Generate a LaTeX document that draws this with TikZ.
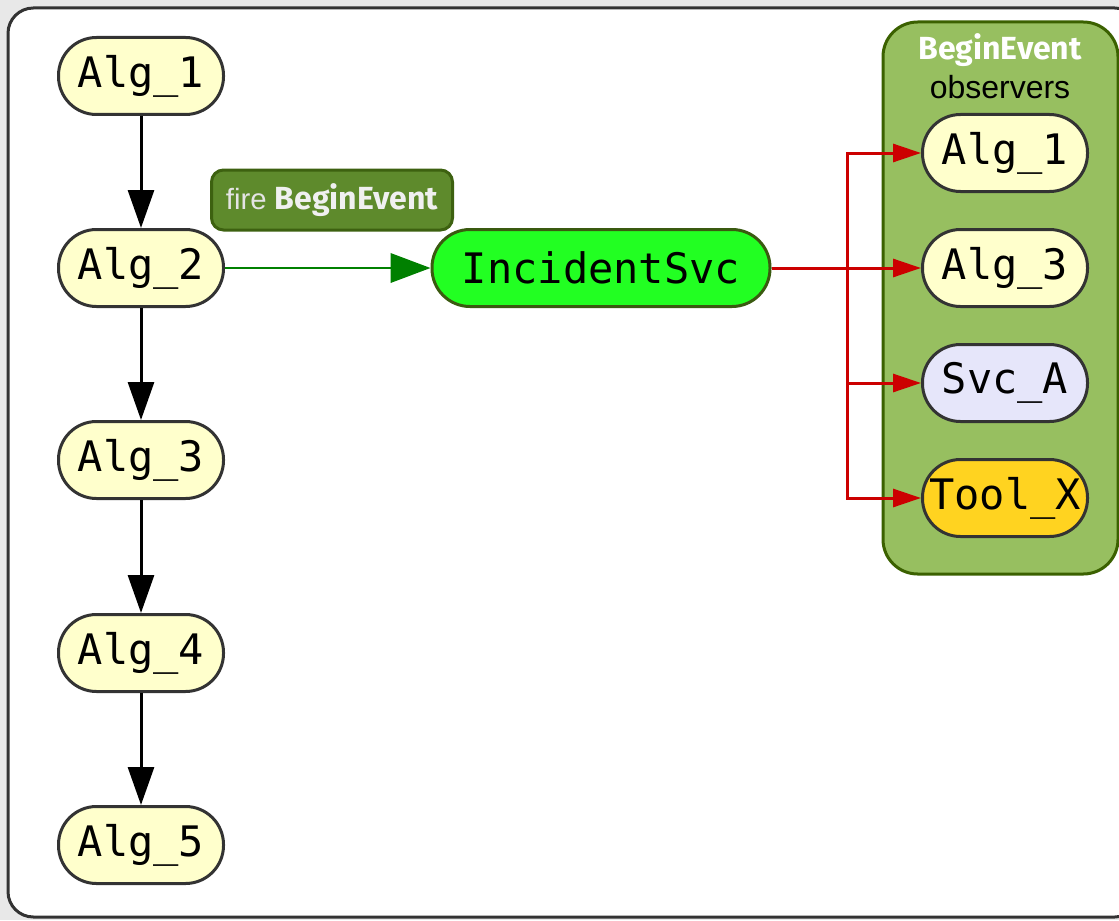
\documentclass[tikz,border=0pt]{standalone}
\usepackage{fontspec}
\usetikzlibrary{arrows.meta,positioning}
\newfontfamily\codefont{DejaVu Sans Mono}
\newfontfamily\plainfont{Liberation Sans}
\newfontfamily\headfont{Fira Sans}

\definecolor{pagegray}{HTML}{E8E8E8}
\definecolor{framegray}{HTML}{333333}
\definecolor{algfill}{HTML}{FFFFCC}
\definecolor{svcfill}{HTML}{E6E6FA}
\definecolor{toolfill}{HTML}{FFD320}
\definecolor{incfill}{HTML}{22FF22}
\definecolor{incdraw}{HTML}{3A5A10}
\definecolor{tagfill}{HTML}{5E8A2C}
\definecolor{tagdraw}{HTML}{3D6110}
\definecolor{groupfill}{HTML}{97BF60}
\definecolor{groupdraw}{HTML}{3B6100}
\definecolor{firegreen}{HTML}{008000}
\definecolor{notifyred}{HTML}{CC0000}
\definecolor{tagtext}{HTML}{E4E4E4}

\tikzset{
  pill/.style={rectangle, rounded corners=28.5pt, minimum height=57.75pt,
    minimum width=123.75pt, draw=framegray, line width=2.25pt, inner sep=0pt,
    font=\codefont\fontsize{31.5}{36}\selectfont},
  algbox/.style={pill, fill=algfill},
  flow/.style={line width=2.25pt, -{Triangle[length=28.5pt,width=19.5pt]}},
  firearrow/.style={draw=firegreen, line width=2pt,
    -{Triangle[length=30pt,width=22pt]}},
  notify/.style={draw=notifyred, line width=2.25pt,
    -{Triangle[length=21pt,width=13.5pt]}},
}

\begin{document}
\begin{tikzpicture}[x=0.75pt,y=-0.75pt]
  % page and outer frame
  \useasboundingbox (0,0) rectangle (1119,920);
  \fill[pagegray] (0,0) rectangle (1119,920);
  \draw[framegray, fill=white, line width=2.25pt, rounded corners=19pt]
    (8,8) rectangle (1140,917);

  % observer group
  \draw[groupdraw, fill=groupfill, line width=2.25pt, rounded corners=26pt]
    (883,22) rectangle (1118,574);
  \node (grouptitle) at (1000,50)
    {\headfont\bfseries\fontsize{24}{28}\selectfont\color{white}BeginEvent};
  \node (groupsub) at (1000,87)
    {\plainfont\fontsize{24}{28}\selectfont observers};

  % algorithm sequence
  \node[algbox] (a1) at (141,76)  {Alg\_1};
  \node[algbox] (a2) at (141,268) {Alg\_2};
  \node[algbox] (a3) at (141,460) {Alg\_3};
  \node[algbox] (a4) at (141,653) {Alg\_4};
  \node[algbox] (a5) at (141,845) {Alg\_5};

  \draw[flow] (a1) -- (a2);
  \draw[flow] (a2) -- (a3);
  \draw[flow] (a3) -- (a4);
  \draw[flow] (a4) -- (a5);

  % incident service
  \node[pill, fill=incfill, draw=incdraw, minimum width=253.5pt] (inc) at (601,268)
    {IncidentSvc};

  \node[rectangle, rounded corners=9pt, fill=tagfill, draw=tagdraw, line width=2.25pt,
        minimum width=180.75pt, minimum height=45pt, inner sep=0pt] (tag) at (332,200)
    {\plainfont\fontsize{22}{26}\selectfont\color{tagtext}fire
     \headfont\bfseries\fontsize{24}{28}\selectfont\color{white!94!black}BeginEvent};

  \draw[firearrow] (a2) -- (inc);

  % observers
  \node[algbox] (o1) at (1005,153) {Alg\_1};
  \node[algbox] (o3) at (1005,268) {Alg\_3};
  \node[pill, fill=svcfill] (osvc) at (1005,383) {Svc\_A};
  \node[pill, fill=toolfill] (otool) at (1005,498) {Tool\_X};

  \coordinate (split) at (847,268);
  \draw[notify] (inc) -- (o3);
  \draw[notify] (split) |- (o1.west);
  \draw[notify] (split) |- (osvc.west);
  \draw[notify] (split) |- (otool.west);
\end{tikzpicture}
\end{document}
